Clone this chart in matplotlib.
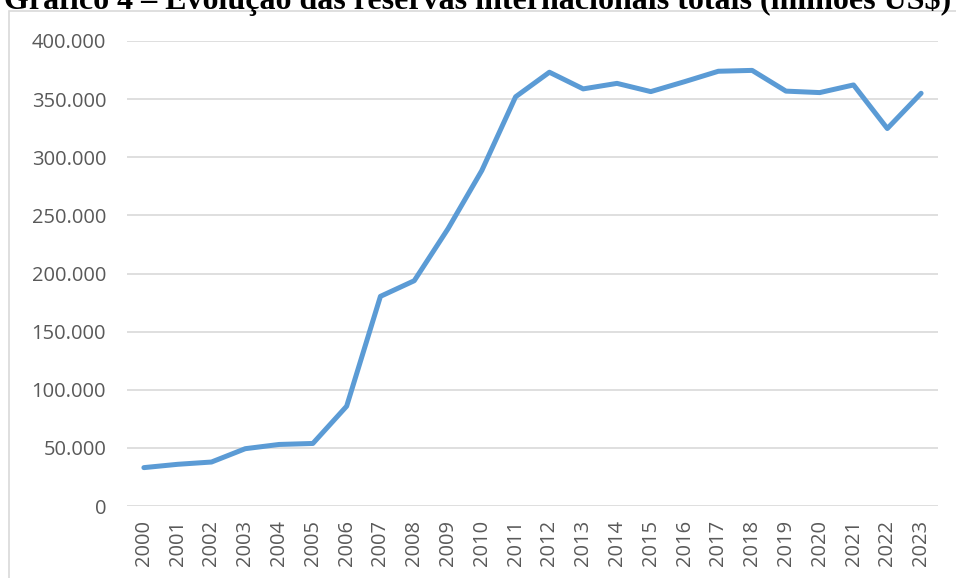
import matplotlib
matplotlib.use('Agg')
import matplotlib.pyplot as plt
from matplotlib.patches import Rectangle
from matplotlib.ticker import FuncFormatter

# reservas internacionais totais, milhões US$
anos = [str(a) for a in range(2000, 2024)]
reservas = [33011, 35866, 37823, 49296, 52935, 53799, 85839, 180334, 193783,
            238520, 288575, 352012, 373147, 358808, 363551, 356464, 365016,
            373972, 374715, 356884, 355620, 362204, 324703, 355034]
titulo = 'Gráfico 4 – Evolução das reservas internacionais totais (milhões US$)'

W, H = 956, 578
fig = plt.figure(figsize=(W / 100, H / 100), dpi=100)

# moldura do gráfico (estilo Excel), cortada à direita/embaixo
fig.patches.append(Rectangle((9 / W, -0.05), 1.2, 1 - 11 / H + 0.05,
                             transform=fig.transFigure, fill=False,
                             edgecolor='#d9d9d9', linewidth=1.2))

ax = fig.add_axes([127 / W, 1 - 506 / H, (938 - 127) / W, (506 - 41) / H])
ax.plot(range(len(anos)), reservas, color='#5b9bd5', linewidth=3.6,
        solid_joinstyle='round', solid_capstyle='round')

ax.set_xlim(-0.5, len(anos) - 0.5)
ax.set_ylim(0, 400000)
ax.set_yticks(range(0, 400001, 50000))
ax.yaxis.set_major_formatter(FuncFormatter(lambda v, p: f'{int(v):,}'.replace(',', '.')))
ax.set_xticks(range(len(anos)))
ax.set_xticklabels(anos, rotation=90)

ax.grid(axis='y', color='#d9d9d9', linewidth=1.2)
ax.set_axisbelow(True)
for s in ax.spines.values():
    s.set_visible(False)
ax.tick_params(axis='both', length=0, colors='#595959', labelsize=14.5)
ax.tick_params(axis='y', pad=15)
ax.tick_params(axis='x', pad=10)
for lab in ax.get_xticklabels() + ax.get_yticklabels():
    lab.set_fontfamily('Open Sans')

fig.text(0.5, 1 - 9 / H, titulo, ha='center', va='baseline',
         fontfamily='Liberation Serif', fontweight='bold', fontsize=23,
         color='black')

fig.savefig('out.png', dpi=100)
